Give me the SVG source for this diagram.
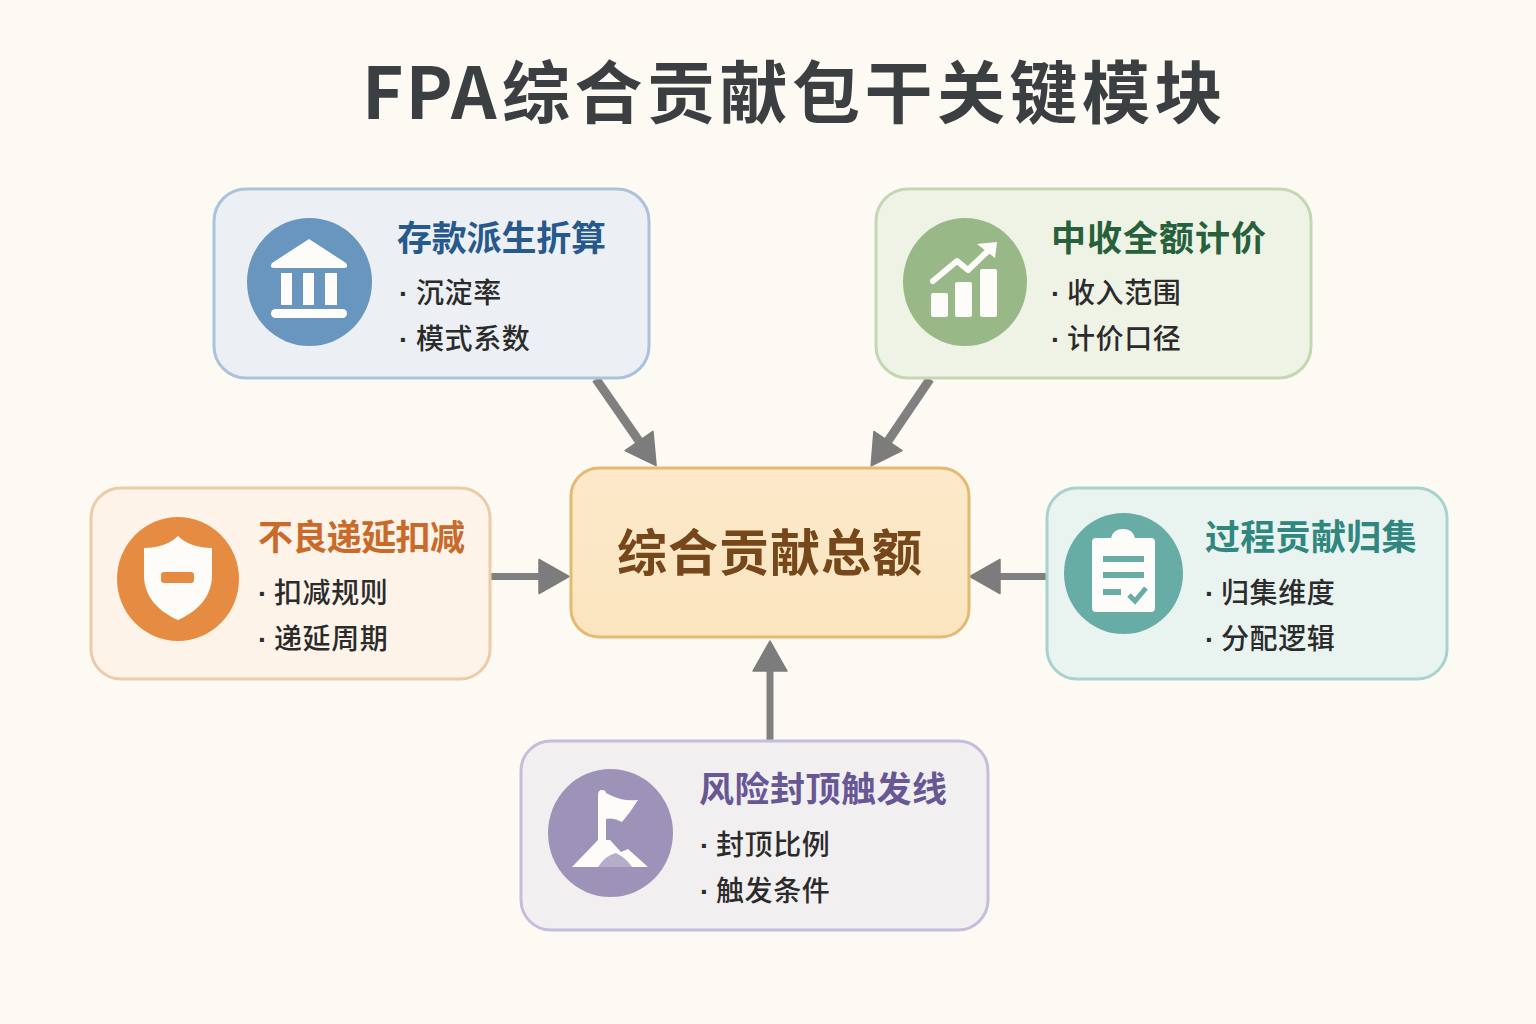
<svg xmlns="http://www.w3.org/2000/svg" width="1536" height="1024" viewBox="0 0 1536 1024">
<style>
text{font-family:"Noto Sans CJK SC","Noto Sans",sans-serif}
.title{font-size:68px;font-weight:700;fill:#3c3f42;letter-spacing:4.500px}
.h{font-size:35px;font-weight:700}
.li{font-size:28px;font-weight:500;fill:#2b2b2b;letter-spacing:.6px}
.b{font-family:"Liberation Sans",sans-serif;font-weight:700}
.box{stroke-width:3}
.w{fill:#fefcf8}
.conn{stroke:#808080;fill:none}
</style>
<defs>
<marker id="head" markerUnits="userSpaceOnUse" markerWidth="32" markerHeight="38" refX="1" refY="19" orient="auto"><path d="M1 2L31 19L1 36Z" fill="#7c7c7c" stroke="#7c7c7c" stroke-width="1.500" stroke-linejoin="round"/></marker>
<linearGradient id="cg" x1="0" y1="0" x2="0" y2="1"><stop offset="0" stop-color="#fbe9ca"/><stop offset="1" stop-color="#fbe5bf"/></linearGradient>
</defs>
<rect width="1536" height="1024" fill="#fdfaf3"/>
<text id="title" class="title" x="362" y="119"><tspan font-size="71" letter-spacing="2">FPA</tspan><tspan x="502" y="118">综合贡献包干关键模块</tspan></text>
<g id="connectors" class="conn">
<line x1="596" y1="379" x2="639" y2="441" stroke-width="9" marker-end="url(#head)"/>
<line x1="930" y1="379" x2="888" y2="441" stroke-width="9" marker-end="url(#head)"/>
<line x1="489" y1="576.500" x2="539" y2="576.500" stroke-width="7" marker-end="url(#head)"/>
<line x1="1047" y1="576.500" x2="1000" y2="576.500" stroke-width="7" marker-end="url(#head)"/>
<line x1="770" y1="740" x2="770" y2="671" stroke-width="7" marker-end="url(#head)"/>
</g>
<g id="node-deposit">
<rect class="box" x="214" y="189" width="435" height="189" rx="32" fill="#ecf0f4" stroke="#a9c3dc"/>
<ellipse cx="309.500" cy="282" rx="62.500" ry="64" fill="#6896be"/>
<path class="w" d="M309 239L346 263Q349 268 344 268H274Q269 268 272 263Z"/>
<rect class="w" x="281" y="273" width="11" height="32"/><rect class="w" x="303" y="273" width="11" height="32"/><rect class="w" x="325" y="273" width="12" height="32"/>
<rect class="w" x="271" y="309" width="76" height="9" rx="4.500"/>
<text class="h" x="397" y="251" fill="#27598c" letter-spacing="-.2">存款派生折算</text>
<text class="li" y="303"><tspan class="b" x="399">·</tspan><tspan x="416">沉淀率</tspan></text>
<text class="li" y="349"><tspan class="b" x="399">·</tspan><tspan x="416">模式系数</tspan></text>
</g>
<g id="node-fee">
<rect class="box" x="876" y="189" width="435" height="189" rx="32" fill="#eff3e6" stroke="#c3d7b3"/>
<ellipse cx="965" cy="282" rx="62" ry="64" fill="#99b888"/>
<rect class="w" x="931" y="293" width="17" height="24" rx="2"/><rect class="w" x="955" y="282" width="17" height="35" rx="2"/><rect class="w" x="980" y="269" width="17" height="48" rx="2"/>
<path d="M933 281L957 261L968 270L990 249" fill="none" stroke="#fefcf8" stroke-width="6" stroke-linecap="round" stroke-linejoin="round"/>
<path class="w" d="M997 242L977 244L995 258Z"/>
<text class="h" x="1051" y="251" fill="#27613c" letter-spacing="1">中收全额计价</text>
<text class="li" y="303"><tspan class="b" x="1051">·</tspan><tspan x="1067">收入范围</tspan></text>
<text class="li" y="349"><tspan class="b" x="1051">·</tspan><tspan x="1067">计价口径</tspan></text>
</g>
<g id="node-deduct">
<rect class="box" x="91" y="488" width="399" height="191" rx="30" fill="#fdf3e8" stroke="#eccba6"/>
<ellipse cx="178" cy="579" rx="61" ry="62" fill="#e68c42"/>
<path class="w" d="M178 536C186 544 198 548 212 548L212 575C212 598 196 612 178 620C160 612 144 598 144 575L144 548C158 548 170 544 178 536Z"/>
<rect x="161" y="572" width="33" height="11" rx="3" fill="#e68c42"/>
<text class="h" x="258" y="550" fill="#c96a2a" letter-spacing="-.6">不良递延扣减</text>
<text class="li" y="603"><tspan class="b" x="258">·</tspan><tspan x="274">扣减规则</tspan></text>
<text class="li" y="649"><tspan class="b" x="258">·</tspan><tspan x="274">递延周期</tspan></text>
</g>
<g id="node-process">
<rect class="box" x="1047" y="488" width="400" height="191" rx="30" fill="#e9f3f0" stroke="#a9d1ce"/>
<ellipse cx="1123.500" cy="573.500" rx="59.500" ry="60.500" fill="#68aca6"/>
<path class="w" d="M1096 538H1111Q1113 529 1123 529Q1133 529 1135 538H1151Q1155 538 1155 542V608Q1155 612 1151 612H1096Q1092 612 1092 608V542Q1092 538 1096 538Z"/>
<g fill="#68aca6"><rect x="1103" y="556" width="41" height="6"/><rect x="1103" y="572" width="41" height="6"/><rect x="1103" y="589" width="18" height="6"/></g>
<path d="M1129 595L1135 601L1146 588" fill="none" stroke="#68aca6" stroke-width="5"/>
<text class="h" x="1205" y="550" fill="#2f8780" letter-spacing=".3">过程贡献归集</text>
<text class="li" y="603"><tspan class="b" x="1205">·</tspan><tspan x="1221">归集维度</tspan></text>
<text class="li" y="649"><tspan class="b" x="1205">·</tspan><tspan x="1221">分配逻辑</tspan></text>
</g>
<g id="node-risk">
<rect class="box" x="521" y="741" width="467" height="189" rx="30" fill="#f2eff1" stroke="#c4bddb"/>
<ellipse cx="610.500" cy="833" rx="62.500" ry="64" fill="#9d93b9"/>
<path class="w" d="M598 795Q598 790 602 790Q606 790 606 793Q622 802 638 800L630 812L622 822Q614 817 606 819V840H610L621 852L628 849L648 867H572L598 840Z"/>
<path d="M598 867Q606 855 616 853Q626 858 632 867Z" fill="#9d93b9" opacity=".75"/>
<text class="h" x="699" y="802" fill="#675794" letter-spacing=".5">风险封顶触发线</text>
<text class="li" y="855"><tspan class="b" x="700">·</tspan><tspan x="716">封顶比例</tspan></text>
<text class="li" y="901"><tspan class="b" x="700">·</tspan><tspan x="716">触发条件</tspan></text>
</g>
<g id="node-total">
<rect class="box" x="571" y="468" width="398" height="169" rx="28" fill="url(#cg)" stroke="#e4b974"/>
<text x="617" y="571" font-size="50" font-weight="700" fill="#75471a" letter-spacing="1">综合贡献总额</text>
</g>
</svg>
